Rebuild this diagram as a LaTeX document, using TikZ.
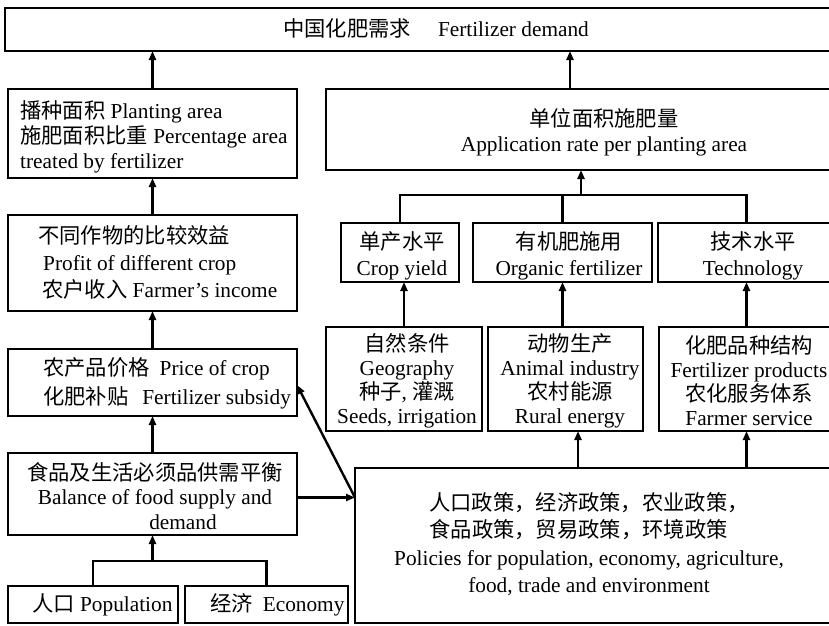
\documentclass[tikz,border=0pt]{standalone}
\usepackage{fontspec}
\setmainfont{Liberation Serif}
\newfontfamily\cjk{Noto Sans CJK SC}
\usetikzlibrary{arrows.meta}
\newcommand\bx[5]{\node[box,minimum width=#4pt,minimum height=#5pt] (#1) at (#2,#3) {};}
\begin{document}
\begin{tikzpicture}[x=1pt,y=1pt,
  box/.style={draw,line width=1.8pt,inner sep=0pt,outer sep=0pt,anchor=north west},
  txt/.style={inner sep=0pt,font=\fontsize{21.3}{25}\selectfont},
  arr/.style={line width=2.4pt,line join=miter,-{Triangle[length=9pt,width=7pt]}},
  ln/.style={line width=2.4pt,line join=miter}]
\useasboundingbox (0,0) rectangle (829,-625);
\clip (0,0) rectangle (829,-625);
\fill[white] (0,0) rectangle (829,-625);
% boxes
\bx{top}{5}{-8}{830}{43}
\bx{plant}{8}{-89}{289}{89}
\bx{profit}{8}{-215}{289}{96}
\bx{price}{8}{-349}{289}{67}
\bx{bal}{8}{-453}{289}{82}
\bx{pop}{8}{-586}{170}{37}
\bx{econ}{185}{-586}{163}{37}
\bx{policy}{355}{-468}{480}{155}
\bx{app}{326}{-89}{509}{81}
\bx{yield}{341}{-223}{118}{59}
\bx{org}{473}{-223}{179}{59}
\bx{tech}{658}{-223}{177}{59}
\bx{geo}{326}{-327}{156}{104}
\bx{animal}{488}{-327}{155}{104}
\bx{fprod}{659}{-327}{176}{104}
% texts
\node[txt,anchor=west] (topT) at (283,-28) {{\cjk 中国化肥需求}\hspace{27pt}Fertilizer demand};
\node[txt,anchor=west,align=left] (plantT) at (20,-137) {{\cjk 播种面积} Planting area\\{\cjk 施肥面积比重} Percentage area\\treated by fertilizer};
\node[txt,anchor=west,align=left,font=\fontsize{21.3}{27}\selectfont] (profitT) at (38,-262) {{\cjk 不同作物的比较效益}\\\hspace*{5pt}Profit of different crop\\\hspace*{4pt}{\cjk 农户收入} Farmer's income};
\node[txt,anchor=west,align=left,font=\fontsize{21.3}{29}\selectfont] (priceT) at (43,-383) {{\cjk 农产品价格}\hspace{10pt}Price of crop\\{\cjk 化肥补贴}\hspace{14pt}Fertilizer subsidy};
\node[txt,align=center,font=\fontsize{21.3}{24.5}\selectfont] (balT) at (155,-496) {{\cjk 食品及生活必须品供需平衡}\\Balance of food supply and\\\hspace*{56pt}demand};
\node[txt,anchor=west] (popT) at (32,-605) {{\cjk 人口} Population};
\node[txt,anchor=west] (econT) at (210,-605) {{\cjk 经济}\hspace{10pt}Economy};
\node[txt,align=center,font=\fontsize{21.3}{27.3}\selectfont] (policyT) at (589,-544) {{\cjk 人口政策，经济政策，农业政策，}\\{\cjk 食品政策，贸易政策，环境政策}\rule{21pt}{0pt}\\Policies for population, economy, agriculture,\\food, trade and environment};
\node[txt,align=center] (appT) at (604,-132) {{\cjk 单位面积施肥量}\\Application rate per planting area};
\node[txt,align=center,font=\fontsize{21.3}{26}\selectfont] (yieldT) at (402,-256) {{\cjk 单产水平}\\Crop yield};
\node[txt,align=center,font=\fontsize{21.3}{26}\selectfont] (orgT) at (569,-256) {{\cjk 有机肥施用}\\Organic fertilizer};
\node[txt,align=center,font=\fontsize{21.3}{26}\selectfont] (techT) at (753,-256) {{\cjk 技术水平}\\Technology};
\node[txt,align=center,font=\fontsize{21.3}{24}\selectfont] (geoT) at (407,-381) {{\cjk 自然条件}\\Geography\\{\cjk 种子}, {\cjk 灌溉}\\Seeds, irrigation};
\node[txt,align=center,font=\fontsize{21.3}{24}\selectfont] (animalT) at (570,-381) {{\cjk 动物生产}\\Animal industry\\{\cjk 农村能源}\\Rural energy};
\node[txt,align=center,font=\fontsize{21.3}{24}\selectfont] (fprodT) at (749,-381) {{\cjk 化肥品种结构}\\Fertilizer products\\{\cjk 农化服务体系}\\Farmer service};
% connectors left column
\draw[arr] (plant.north) -- (plant.north |- top.south);
\draw[arr] (profit.north) -- (plant.south);
\draw[arr] (price.north) -- (profit.south);
\draw[arr] (bal.north) -- (price.south);
\coordinate (jl) at (152.5,-561);
\draw[ln] (pop.north) |- (econ.north |- jl) -- (econ.north);
\draw[arr] (jl) -- (bal.south);
\coordinate (pin) at ([yshift=-3.5pt]bal.east -| policy.west);
\draw[arr] ([yshift=-3.5pt]bal.east) -- (pin);
\draw[arr] (pin) -- ([yshift=-2.5pt]price.east);
% connectors right column
\draw[arr] ([xshift=-10.5pt]app.north) -- ([xshift=-10.5pt]app.north |- top.south);
\coordinate (jr) at (581,-195);
\draw[ln] (yield.north) |- (tech.north |- jr) -- (tech.north);
\draw[ln] (org.north) -- (org.north |- jr);
\draw[arr] (jr) -- (jr |- app.south);
\draw[arr] (geo.north) -- (geo.north |- yield.south);
\draw[arr] (org.south |- animal.north) -- (org.south);
\draw[arr] (tech.south |- fprod.north) -- (tech.south);
\coordinate (pa) at ([xshift=12.5pt]animal.south);
\draw[arr] (pa |- policy.north) -- (pa);
\draw[arr] (tech.south |- policy.north) -- (tech.south |- fprod.south);
\end{tikzpicture}
\end{document}
